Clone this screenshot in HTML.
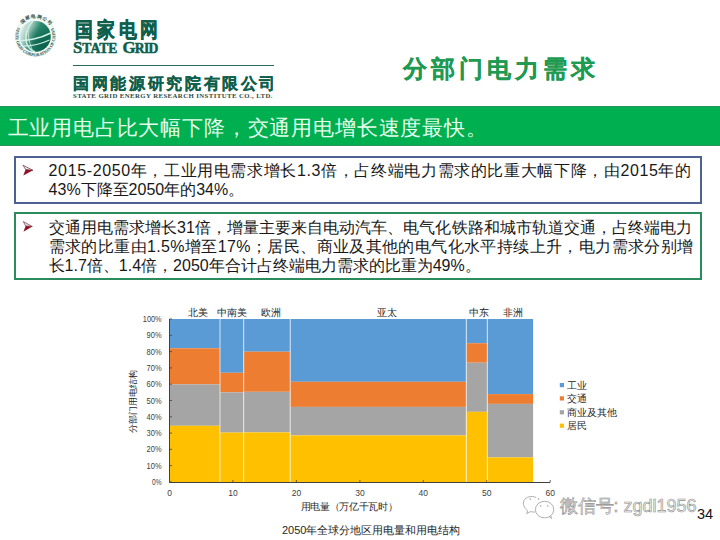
<!DOCTYPE html>
<html><head><meta charset="utf-8">
<style>
*{margin:0;padding:0;box-sizing:border-box}
html,body{width:720px;height:540px;overflow:hidden;background:#fff}
body{position:relative;font-family:"Liberation Sans",sans-serif;color:#262626}
.a{position:absolute;white-space:nowrap}
#gj{left:74.5px;top:17px;font-size:21.3px;font-weight:bold;color:#0f5f4b;letter-spacing:4.6px;line-height:26px;transform:scaleX(0.85);transform-origin:0 0;-webkit-text-stroke:0.5px #0f5f4b}
#sg,#sg2{-webkit-text-stroke:0.5px #0f5f4b}
#sg{left:73px;top:38.6px;font-family:"Liberation Serif",serif;font-weight:bold;color:#0f5f4b;font-size:16.8px;line-height:17px;letter-spacing:0px}
#sg2{left:122.5px;top:38.6px;font-family:"Liberation Serif",serif;font-weight:bold;color:#0f5f4b;font-size:16.8px;line-height:17px;letter-spacing:-0.75px}
.sc{font-size:13.6px}
#ln{left:73px;top:64.5px;width:201px;height:1.6px;background:#2b6b5c}
#gw{left:73px;top:73.6px;font-size:16px;font-weight:bold;color:#0f5f4b;letter-spacing:2.65px;line-height:20px;-webkit-text-stroke:0.25px #0f5f4b}
#sge{left:73px;top:92px;font-family:"Liberation Serif",serif;font-weight:bold;color:#2b4d45;font-size:6.8px;line-height:8px;letter-spacing:0.4px}
#title{left:403px;top:56.5px;font-size:24px;font-weight:bold;color:#1f9a52;line-height:24px;letter-spacing:3.95px;-webkit-text-stroke:0.2px #1f9a52}
#banner{left:0;top:106px;width:720px;height:40px;background:#00af50;border-top:1px solid #23955a;border-bottom:1px solid #23955a}
#btext{left:7.5px;top:109.5px;font-size:21.4px;color:#e4ffec;line-height:36px;letter-spacing:0.83px}
.box{position:absolute;left:14px;width:688px;background:#fff;border:2px solid}
#b1{top:156px;height:48px;border-color:#4d6192}
#b2{top:212px;height:68px;border-color:#2a8c5c}
.txt{position:absolute;left:48.6px;width:643px;font-size:16px;line-height:19.3px;color:#181818}
.j{white-space:nowrap}
.l{white-space:nowrap}
#t1{top:161px}
#t2{top:217.5px}
.arr{position:absolute}
#cap{left:282px;top:522px;font-size:11px;color:#262626;line-height:16px}
#pg{left:697px;top:506px;font-size:14.5px;color:#111;line-height:16px}
#wm{left:559.5px;top:494px;font-size:18px;color:#f6f6f6;-webkit-text-stroke:0.6px #8c8c8c;line-height:24px}

.yl,.xl{font-family:"Liberation Sans",sans-serif;font-size:8.5px;fill:#404040}
.rl text{font-family:"Liberation Sans",sans-serif;font-size:9.5px;fill:#262626;text-anchor:middle}
.lg{font-family:"Liberation Sans",sans-serif;font-size:9.2px;fill:#404040}
#wmc{font-size:17.5px;color:#f4f4f4;-webkit-text-stroke:0.55px #8c8c8c}
</style></head><body>

<svg class="a" style="left:0;top:0" width="70" height="70" viewBox="0 0 70 70">
 <defs>
  <linearGradient id="gl" x1="0" y1="0.2" x2="1" y2="0.6">
   <stop offset="0" stop-color="#eef3f1"/>
   <stop offset="0.3" stop-color="#9cc4b7"/>
   <stop offset="0.55" stop-color="#2a8a6f"/>
   <stop offset="1" stop-color="#0b6a52"/>
  </linearGradient>
  <radialGradient id="gs" cx="0.65" cy="0.75" r="0.6">
   <stop offset="0" stop-color="#0a5a46" stop-opacity="0.7"/>
   <stop offset="1" stop-color="#0a5a46" stop-opacity="0"/>
  </radialGradient>
  <path id="rp2" d="M18.25,26.5 A19.8,19.8 0 1,0 52.55,26.5"/>
  <path id="rp" d="M35.4,36.4 m-18.3,0 a18.3,18.3 0 1,1 36.6,0 a18.3,18.3 0 1,1 -36.6,0"/>
 </defs>
 <circle cx="35.4" cy="36.4" r="20" fill="#f3faf7" stroke="#d3ebe3" stroke-width="0.8"/>
 <text font-family="Liberation Serif,serif" font-weight="bold" font-size="4.6" fill="#2a4f47" letter-spacing="0.5"><textPath href="#rp" startOffset="13.5">国家电网公司</textPath></text>
 <text font-family="Liberation Serif,serif" font-weight="bold" font-size="4.2" fill="#2a4f47"><textPath href="#rp2" startOffset="1" textLength="80" lengthAdjust="spacingAndGlyphs">STATE GRID CORPORATION OF CHINA</textPath></text>
 <circle cx="35.4" cy="36.4" r="15.8" fill="#dff2ec"/>
 <circle cx="35.4" cy="36.4" r="15.3" fill="url(#gl)"/>
 <circle cx="35.4" cy="36.4" r="15.3" fill="url(#gs)"/>
 <path d="M32.8 21.2 C27 27 24.5 36 26.5 43 C28.5 48 31.5 51 35 51.7" stroke="#cdf3e6" stroke-width="1.5" fill="none"/>
 <path d="M29.5 22 C27 28 27.5 40 33 51.5" stroke="#c4eadf" stroke-width="0.8" fill="none"/>
 <path d="M20.3 40.5 C28 41 41 38 50.7 33" stroke="#cdf3e6" stroke-width="1.5" fill="none"/>
 <path d="M24 46 C31 46 42 43.5 49.5 40" stroke="#c4eadf" stroke-width="1.3" fill="none"/>
</svg>

<div class="a" id="gj">国家电网</div>
<div class="a" id="sg">S<span class="sc">TATE</span></div><div class="a" id="sg2">G<span class="sc">RID</span></div>
<div class="a" id="ln"></div>
<div class="a" id="gw">国网能源研究院有限公司</div>
<div class="a" id="sge">STATE GRID ENERGY RESEARCH INSTITUTE CO., LTD.</div>

<div class="a" id="title">分部门电力需求</div>

<div class="a" id="banner"></div>
<div class="a" id="btext">工业用电占比大幅下降，交通用电增长速度最快。</div>

<div class="box" id="b1"></div>
<div class="box" id="b2"></div>

<svg class="arr" style="left:20px;top:162px" width="16" height="16" viewBox="20 162 16 16">
 <polygon points="23,165.2 33,170.3 25.6,169.6" fill="#f6dde0" stroke="#4a2228" stroke-width="0.6"/>
 <polygon points="25.6,169.6 33,170.3 23.3,175.6" fill="#8e1224"/>
</svg>
<svg class="arr" style="left:20px;top:218px" width="16" height="16" viewBox="20 218 16 16">
 <polygon points="23.3,221.5 32.3,226.5 25.6,225.9" fill="#f6dde0" stroke="#4a2228" stroke-width="0.6"/>
 <polygon points="25.6,225.9 32.3,226.5 23.5,231.8" fill="#8e1224"/>
</svg>

<div class="txt" id="t1">
 <div class="j" id="j1" style="letter-spacing:0.626px">2015-2050年，工业用电需求增长1.3倍，占终端电力需求的比重大幅下降，由2015年的</div>
 <div class="l">43%下降至2050年的34%。</div>
</div>
<div class="txt" id="t2">
 <div class="j" id="j2" style="letter-spacing:0.043px">交通用电需求增长31倍，增量主要来自电动汽车、电气化铁路和城市轨道交通，占终端电力</div>
 <div class="j" id="j3" style="letter-spacing:0.391px">需求的比重由1.5%增至17%；居民、商业及其他的电气化水平持续上升，电力需求分别增</div>
 <div class="l">长1.7倍、1.4倍，2050年合计占终端电力需求的比重为49%。</div>
</div>

<!-- chart -->
<svg class="a" style="left:0;top:0" width="720" height="540" viewBox="0 0 720 540">
 <g id="bars">
<rect x="169.5" y="319.0" width="50.5" height="29.3" fill="#5b9bd5"/>
<rect x="169.5" y="348.3" width="50.5" height="36.1" fill="#ed7d31"/>
<rect x="169.5" y="384.4" width="50.5" height="41.4" fill="#a5a5a5"/>
<rect x="169.5" y="425.8" width="50.5" height="56.2" fill="#ffc000"/>
<rect x="220.0" y="319.0" width="23.7" height="53.8" fill="#5b9bd5"/>
<rect x="220.0" y="372.8" width="23.7" height="19.6" fill="#ed7d31"/>
<rect x="220.0" y="392.4" width="23.7" height="40.2" fill="#a5a5a5"/>
<rect x="220.0" y="432.6" width="23.7" height="49.4" fill="#ffc000"/>
<rect x="243.7" y="319.0" width="46.5" height="32.7" fill="#5b9bd5"/>
<rect x="243.7" y="351.7" width="46.5" height="40.1" fill="#ed7d31"/>
<rect x="243.7" y="391.8" width="46.5" height="40.6" fill="#a5a5a5"/>
<rect x="243.7" y="432.4" width="46.5" height="49.6" fill="#ffc000"/>
<rect x="290.2" y="319.0" width="176.1" height="62.8" fill="#5b9bd5"/>
<rect x="290.2" y="381.8" width="176.1" height="25.1" fill="#ed7d31"/>
<rect x="290.2" y="406.9" width="176.1" height="28.5" fill="#a5a5a5"/>
<rect x="290.2" y="435.4" width="176.1" height="46.6" fill="#ffc000"/>
<rect x="466.3" y="319.0" width="21.0" height="24.2" fill="#5b9bd5"/>
<rect x="466.3" y="343.2" width="21.0" height="19.5" fill="#ed7d31"/>
<rect x="466.3" y="362.7" width="21.0" height="49.1" fill="#a5a5a5"/>
<rect x="466.3" y="411.8" width="21.0" height="70.2" fill="#ffc000"/>
<rect x="487.3" y="319.0" width="45.8" height="75.1" fill="#5b9bd5"/>
<rect x="487.3" y="394.1" width="45.8" height="9.8" fill="#ed7d31"/>
<rect x="487.3" y="403.9" width="45.8" height="53.5" fill="#a5a5a5"/>
<rect x="487.3" y="457.4" width="45.8" height="24.6" fill="#ffc000"/>
<path d="M220.0 319.0V482.0" stroke="#fff" stroke-opacity="0.7" stroke-width="1"/>
<path d="M243.7 319.0V482.0" stroke="#fff" stroke-opacity="0.7" stroke-width="1"/>
<path d="M290.2 319.0V482.0" stroke="#fff" stroke-opacity="0.7" stroke-width="1"/>
<path d="M466.3 319.0V482.0" stroke="#fff" stroke-opacity="0.7" stroke-width="1"/>
<path d="M487.3 319.0V482.0" stroke="#fff" stroke-opacity="0.7" stroke-width="1"/>
<path d="M169.5 319V482.5H550" stroke="#404040" stroke-width="1" fill="none"/>
<path d="M169.5 482.0h2.5" stroke="#404040" stroke-width="0.8"/>
<text x="152.0" y="485.0" textLength="9.6" lengthAdjust="spacingAndGlyphs" class="yl">0%</text>
<path d="M169.5 465.7h2.5" stroke="#404040" stroke-width="0.8"/>
<text x="146.6" y="468.7" textLength="15.0" lengthAdjust="spacingAndGlyphs" class="yl">10%</text>
<path d="M169.5 449.4h2.5" stroke="#404040" stroke-width="0.8"/>
<text x="146.6" y="452.4" textLength="15.0" lengthAdjust="spacingAndGlyphs" class="yl">20%</text>
<path d="M169.5 433.1h2.5" stroke="#404040" stroke-width="0.8"/>
<text x="146.6" y="436.1" textLength="15.0" lengthAdjust="spacingAndGlyphs" class="yl">30%</text>
<path d="M169.5 416.8h2.5" stroke="#404040" stroke-width="0.8"/>
<text x="146.6" y="419.8" textLength="15.0" lengthAdjust="spacingAndGlyphs" class="yl">40%</text>
<path d="M169.5 400.5h2.5" stroke="#404040" stroke-width="0.8"/>
<text x="146.6" y="403.5" textLength="15.0" lengthAdjust="spacingAndGlyphs" class="yl">50%</text>
<path d="M169.5 384.2h2.5" stroke="#404040" stroke-width="0.8"/>
<text x="146.6" y="387.2" textLength="15.0" lengthAdjust="spacingAndGlyphs" class="yl">60%</text>
<path d="M169.5 367.9h2.5" stroke="#404040" stroke-width="0.8"/>
<text x="146.6" y="370.9" textLength="15.0" lengthAdjust="spacingAndGlyphs" class="yl">70%</text>
<path d="M169.5 351.6h2.5" stroke="#404040" stroke-width="0.8"/>
<text x="146.6" y="354.6" textLength="15.0" lengthAdjust="spacingAndGlyphs" class="yl">80%</text>
<path d="M169.5 335.3h2.5" stroke="#404040" stroke-width="0.8"/>
<text x="146.6" y="338.3" textLength="15.0" lengthAdjust="spacingAndGlyphs" class="yl">90%</text>
<path d="M169.5 319.0h2.5" stroke="#404040" stroke-width="0.8"/>
<text x="142.8" y="322.0" textLength="18.8" lengthAdjust="spacingAndGlyphs" class="yl">100%</text>
<path d="M169.5 482.5v-2.5" stroke="#404040" stroke-width="0.8"/>
<text x="169.5" y="495.7" text-anchor="middle" class="xl">0</text>
<path d="M232.9 482.5v-2.5" stroke="#404040" stroke-width="0.8"/>
<text x="232.9" y="495.7" text-anchor="middle" class="xl">10</text>
<path d="M296.4 482.5v-2.5" stroke="#404040" stroke-width="0.8"/>
<text x="296.4" y="495.7" text-anchor="middle" class="xl">20</text>
<path d="M359.9 482.5v-2.5" stroke="#404040" stroke-width="0.8"/>
<text x="359.9" y="495.7" text-anchor="middle" class="xl">30</text>
<path d="M423.3 482.5v-2.5" stroke="#404040" stroke-width="0.8"/>
<text x="423.3" y="495.7" text-anchor="middle" class="xl">40</text>
<path d="M486.8 482.5v-2.5" stroke="#404040" stroke-width="0.8"/>
<text x="486.8" y="495.7" text-anchor="middle" class="xl">50</text>
<path d="M550.2 482.5v-2.5" stroke="#404040" stroke-width="0.8"/>
<text x="550.2" y="495.7" text-anchor="middle" class="xl">60</text>
 </g>
 <g class="rl">
  <text x="198" y="316">北美</text>
  <text x="232" y="316">中南美</text>
  <text x="270.6" y="316">欧洲</text>
  <text x="386.6" y="316">亚太</text>
  <text x="478.5" y="316">中东</text>
  <text x="512.5" y="316">非洲</text>
 </g>
 <rect x="559.8" y="383" width="4.2" height="4.2" fill="#5b9bd5"/>
 <rect x="559.8" y="396.3" width="4.2" height="4.2" fill="#ed7d31"/>
 <rect x="559.8" y="410.2" width="4.2" height="4.2" fill="#a5a5a5"/>
 <rect x="559.8" y="423.6" width="4.2" height="4.2" fill="#ffc000"/>
 <g class="lg" style="font-size:9.7px;fill:#262626">
  <text x="566.5" y="388.6">工业</text>
  <text x="566.5" y="401.9">交通</text>
  <text x="566.5" y="415.8">商业及其他</text>
  <text x="566.5" y="429.2">居民</text>
 </g>
 <text class="lg" transform="translate(135.8,401) rotate(-90)" text-anchor="middle" style="font-size:9.4px;fill:#262626">分部门用电结构</text>
 <text class="lg" x="300.6" y="510.4" style="font-size:9.7px;fill:#262626" textLength="97" lengthAdjust="spacing">用电量（万亿千瓦时）</text>

</svg>

<div class="a" id="cap">2050年全球分地区用电量和用电结构</div>
<svg class="a" style="left:515px;top:488px" width="45" height="35" viewBox="515 488 45 35">
 <g fill="none" stroke="#9a9a9a" stroke-width="0.8">
  <path d="M536 497.5 C532 495.5 526 496.5 524 500.5 C522.5 504 524 508 527.5 510.5 L526.8 513.6 L530.5 511.6 C532 512 533.5 512.2 535 512"/>
  <ellipse cx="544.6" cy="509.6" rx="9.2" ry="8.3"/>
  <path d="M549.5 517 L551.5 518.6 L550.8 515.8"/>
 </g>
 <g fill="#9a9a9a">
  <circle cx="530.3" cy="499" r="0.8"/><circle cx="538.6" cy="499" r="0.8"/>
  <circle cx="540.8" cy="506" r="0.75"/><circle cx="547.8" cy="506" r="0.75"/>
 </g>
</svg>
<div class="a" id="wm"><span id="wmc">微信号:</span> zgdl1956</div>
<div class="a" id="pg">34</div>
</body></html>
